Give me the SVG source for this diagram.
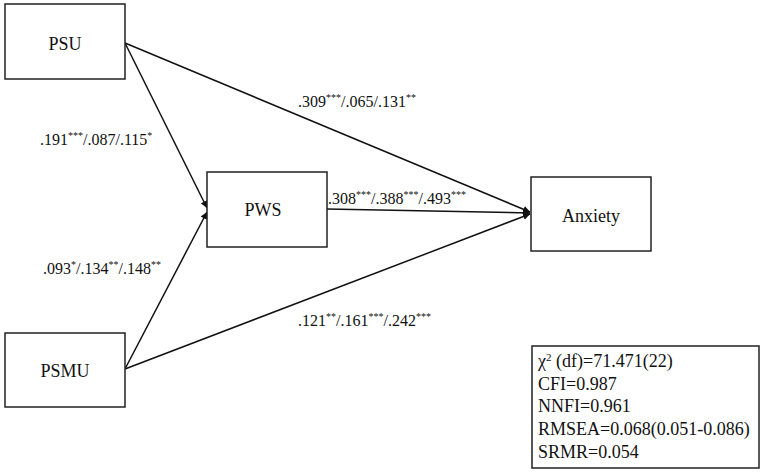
<svg xmlns="http://www.w3.org/2000/svg" width="765" height="476" viewBox="0 0 765 476">
<style>
.box{fill:#fff;stroke:#222;stroke-width:1.5}
.lbl{font-family:"Liberation Serif","Times New Roman",serif;font-size:18px;fill:#111;text-anchor:middle}
.el{font-family:"Liberation Serif","Times New Roman",serif;font-size:16px;fill:#111}
.st{font-family:"Liberation Serif","Times New Roman",serif;font-size:18px;fill:#111}
.edge{stroke:#111;stroke-width:1.5;fill:none;marker-end:url(#arr)}
</style>
<defs>
<marker id="arr" viewBox="0 0 10 10" refX="10" refY="5" markerWidth="7" markerHeight="7" markerUnits="userSpaceOnUse" orient="auto">
<path d="M0,0 L10,5 L0,10 z" fill="#111"/>
</marker>
</defs>
<rect width="765" height="476" fill="#fff"/>
<g id="connectors">
<line class="edge" x1="125" y1="43" x2="530" y2="212"/>
<line class="edge" x1="125" y1="43" x2="207" y2="208"/>
<line class="edge" x1="125" y1="369" x2="207" y2="212"/>
<line class="edge" x1="327" y1="209" x2="530" y2="213"/>
<line class="edge" x1="125" y1="369" x2="530" y2="214"/>
</g>
<g id="edge-labels">
<text class="el" x="40" y="145">.191<tspan dy="-6" font-size="10">***</tspan><tspan dy="6">/.087/.115</tspan><tspan dy="-6" font-size="10">*</tspan></text>
<text class="el" x="43" y="274">.093<tspan dy="-6" font-size="10">*</tspan><tspan dy="6">/.134</tspan><tspan dy="-6" font-size="10">**</tspan><tspan dy="6">/.148</tspan><tspan dy="-6" font-size="10">**</tspan></text>
<text class="el" x="298" y="107">.309<tspan dy="-6" font-size="10">***</tspan><tspan dy="6">/.065/.131</tspan><tspan dy="-6" font-size="10">**</tspan></text>
<text class="el" x="328" y="204">.308<tspan dy="-6" font-size="10">***</tspan><tspan dy="6">/.388</tspan><tspan dy="-6" font-size="10">***</tspan><tspan dy="6">/.493</tspan><tspan dy="-6" font-size="10">***</tspan></text>
<text class="el" x="298" y="326">.121<tspan dy="-6" font-size="10">**</tspan><tspan dy="6">/.161</tspan><tspan dy="-6" font-size="10">***</tspan><tspan dy="6">/.242</tspan><tspan dy="-6" font-size="10">***</tspan></text>
</g>
<g id="PSU">
<rect class="box" x="5" y="4" width="120" height="75"/>
<text class="lbl" x="65" y="50">PSU</text>
</g>
<g id="PSMU">
<rect class="box" x="5" y="333" width="120" height="74"/>
<text class="lbl" x="65" y="377">PSMU</text>
</g>
<g id="PWS">
<rect class="box" x="207" y="172" width="120" height="75"/>
<text class="lbl" x="263" y="216">PWS</text>
</g>
<g id="Anxiety">
<rect class="box" x="531" y="177" width="120" height="74"/>
<text class="lbl" x="591" y="222">Anxiety</text>
</g>
<g id="fit-stats">
<rect class="box" x="532" y="346" width="227" height="122"/>
<text class="st" x="538" y="367">χ<tspan dy="-6" font-size="11">2</tspan><tspan dy="6"> (df)=71.471(22)</tspan></text>
<text class="st" x="538" y="390">CFI=0.987</text>
<text class="st" x="538" y="412">NNFI=0.961</text>
<text class="st" x="538" y="435">RMSEA=0.068(0.051-0.086)</text>
<text class="st" x="538" y="458">SRMR=0.054</text>
</g>
</svg>
